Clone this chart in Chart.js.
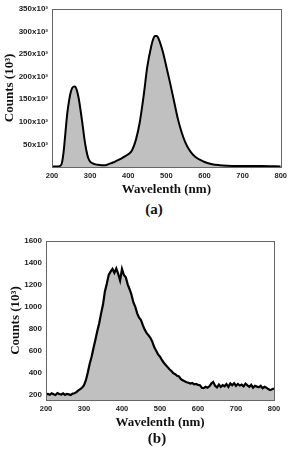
<!DOCTYPE html>
<html>
<head>
<meta charset="utf-8">
<script src="https://cdn.jsdelivr.net/npm/chart.js@4.4.0/dist/chart.umd.min.js"></script>
<style>
  body { margin: 0; background: #fff; width: 291px; height: 449px; position: relative; overflow: hidden; }
  .box { position: absolute; left: 0; width: 291px; height: 200px; }
  .tag { position: absolute; width: 40px; text-align: center; font: bold 15px "Liberation Serif", serif; color: #111; line-height: 16px; }
</style>
</head>
<body>
<div class="box" style="top:0"><canvas id="chartA"></canvas></div>
<div class="tag" style="left:134px; top:201px">(a)</div>
<div class="box" style="top:232px"><canvas id="chartB"></canvas></div>
<div class="tag" style="left:137px; top:430px">(b)</div>
<script>
// spectrum (a)
const waveA = [200, 210, 220, 225, 230, 235, 240, 245, 250, 255, 260, 265, 270, 275, 280, 285, 290, 295, 300, 310,
  320, 330, 340, 350, 360, 370, 380, 390, 400, 410, 420, 430, 440, 450, 460, 465, 470, 475, 480, 490,
  500, 510, 520, 530, 540, 550, 560, 570, 580, 590, 600, 620, 640, 660, 700, 750, 800];
const countsA = [1, 1, 2, 6, 30, 74, 118, 148, 168, 177, 178, 170, 152, 125, 95, 62, 37, 20, 12, 7,
  5, 4, 4, 7, 10, 14, 18, 23, 28, 37, 60, 98, 155, 222, 266, 282, 290, 290, 283, 257,
  222, 185, 146, 107, 77, 54, 38, 27, 20, 15, 11, 6, 4, 3, 2, 2, 1];
const yTicksA = [50, 100, 150, 200, 250, 300, 350];

// spectrum (b), 5 nm steps from 200 to 800
const waveB = [];
for (let w = 200; w <= 800; w += 5) waveB.push(w);
const countsB = [200, 205, 198, 212, 203, 196, 214, 205, 200, 210, 197, 206, 201, 195, 208, 212, 222, 238, 250, 262,
  285, 330, 400, 480, 545, 625, 700, 780, 850, 940, 1020, 1140, 1210, 1290, 1320, 1345, 1310, 1350, 1300, 1240,
  1345, 1290, 1270, 1205, 1160, 1110, 1040, 1000, 940, 900, 880, 830, 790, 760, 740, 715, 680, 630, 600, 565,
  545, 515, 490, 470, 450, 430, 415, 395, 385, 370, 365, 340, 330, 320, 312, 308, 300, 305, 292, 296,
  288, 285, 262, 258, 270, 262, 275, 300, 315, 280, 265, 290, 270, 285, 275, 295, 270, 300, 285, 303,
  280, 296, 282, 290, 275, 300, 284, 270, 288, 262, 280, 272, 266, 280, 258, 270, 262, 250, 240, 248, 255];
const yTicksB = [200, 400, 600, 800, 1000, 1200, 1400, 1600];
const xTicks = [200, 300, 400, 500, 600, 700, 800];

const tickFont = { family: '"Liberation Sans", Arial, sans-serif', size: 8, weight: 'bold' };
const titleFont = { family: '"Liberation Serif", "Times New Roman", serif', size: 13, weight: 'bold' };

const frame = {
  id: 'frame',
  afterDraw(chart) {
    const { ctx, chartArea: a } = chart;
    ctx.save();
    ctx.strokeStyle = '#666';
    ctx.lineWidth = 1;
    ctx.strokeRect(Math.round(a.left) + 0.5, Math.round(a.top) + 0.5, Math.round(a.right - a.left), Math.round(a.bottom - a.top));
    ctx.restore();
  }
};

function makeChart(id, xs, ys, opt) {
  const ctx = document.getElementById(id).getContext('2d');
  return new Chart(ctx, {
    type: 'line',
    data: {
      datasets: [{
        data: xs.map((x, i) => ({ x: x, y: ys[i] })),
        borderColor: '#000',
        borderWidth: opt.lineWidth,
        backgroundColor: '#c0c0c0',
        fill: 'start',
        pointRadius: 0,
        tension: opt.tension,
        cubicInterpolationMode: opt.tension ? 'monotone' : 'default'
      }]
    },
    options: {
      responsive: true,
      maintainAspectRatio: false,
      animation: false,
      layout: { padding: { top: opt.padTop, right: opt.padRight, left: 0, bottom: 0 } },
      plugins: { legend: { display: false }, tooltip: { enabled: false } },
      scales: {
        x: {
          type: 'linear',
          min: 200, max: 800,
          afterBuildTicks: s => { s.ticks = xTicks.map(v => ({ value: v })); },
          afterFit: s => { s.height = opt.xHeight; },
          grid: { display: false, drawTicks: false },
          border: { display: false },
          ticks: { font: { ...tickFont, size: 7.5 }, color: '#222', padding: 4 },
          title: { display: true, text: 'Wavelenth (nm)', font: titleFont, color: '#111', padding: { top: 0, bottom: opt.xTitlePad } }
        },
        y: {
          min: opt.yMin, max: opt.yMax,
          afterBuildTicks: s => { s.ticks = opt.yTicks.map(v => ({ value: v })); },
          afterFit: s => { s.width = opt.yWidth; },
          grid: { display: false, drawTicks: false },
          border: { display: false },
          ticks: { font: tickFont, color: '#222', padding: 4, callback: opt.fmt },
          title: { display: true, text: 'Counts (10³)', font: titleFont, color: '#111', padding: { top: opt.yTitlePad, bottom: 0 } }
        }
      }
    },
    plugins: [frame]
  });
}

makeChart('chartA', waveA, countsA, {
  lineWidth: 2, tension: 0.4, padTop: 7, padRight: 10, xHeight: 33, yWidth: 52,
  xTitlePad: 3, yTitlePad: 2, yMin: 0, yMax: 350, yTicks: yTicksA,
  fmt: v => v + 'x10³'
});

makeChart('chartB', waveB, countsB, {
  lineWidth: 2.2, tension: 0, padTop: 9, padRight: 17, xHeight: 32, yWidth: 46,
  xTitlePad: 2, yTitlePad: 8, yMin: 150, yMax: 1600, yTicks: yTicksB,
  fmt: v => v
});
</script>
</body>
</html>
